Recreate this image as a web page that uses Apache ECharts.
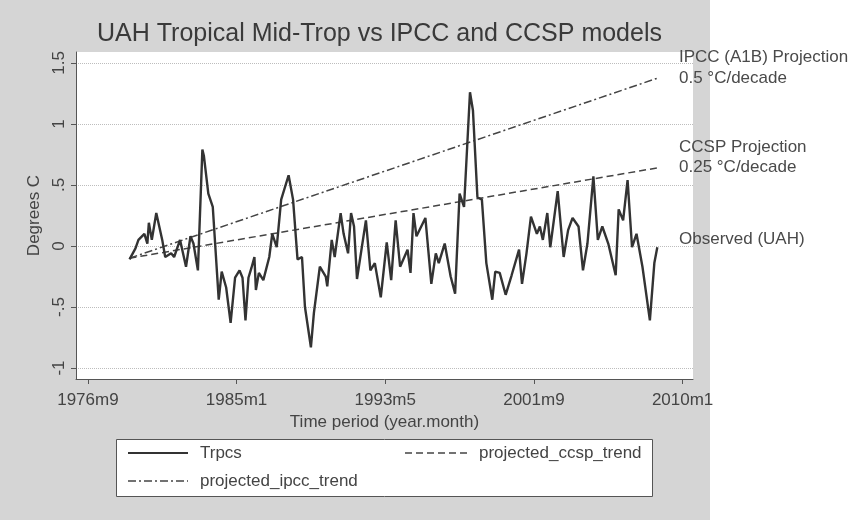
<!DOCTYPE html>
<html><head><meta charset="utf-8">
<script src="https://cdn.jsdelivr.net/npm/echarts@6/dist/echarts.min.js"></script>
<style>
html,body{margin:0;padding:0;background:#fff;}
#c{width:850px;height:520px;background:linear-gradient(to right,#d5d5d5 0,#d5d5d5 710px,#fff 710px);}
</style></head><body><div id="c"></div>
<script>
// Time axis in Stata monthly units (months since 1960m1)
const months = [228,232,234,238,240,241,243,246,248,250,252,256,258,262,266,269,271,274,277,278,281,284,288,290,293,296,299,302,304,306,308,
  310,312,313,315,318,322,324,327,330,335,338,341,344,346,350,352,356,360,361,364,366,370,372,375,377,379,381,387,390,393,397,401,
  404,407,410,415,417,419,421,427,431,434,436,440,444,447,450,453,457,459,462,465,468,472,474,477,481,485,
  490,492,495,498,502,504,506,509,511,516,520,523,526,530,533,536,540,543,546,550,555,557,560,563,566,569,573,578,581,583];
const trpcs = [-0.11,-0.02,0.05,0.10,0.02,0.19,0.05,0.27,0.16,0.05,-0.09,-0.06,-0.09,0.05,-0.17,0.08,0.02,-0.20,0.79,0.74,0.43,0.32,-0.44,-0.21,-0.34,-0.63,-0.26,-0.20,-0.26,-0.61,-0.26,
  -0.18,-0.09,-0.36,-0.22,-0.28,-0.09,0.10,-0.01,0.38,0.58,0.38,-0.11,-0.09,-0.50,-0.83,-0.55,-0.17,-0.25,-0.33,0.05,-0.09,0.27,0.10,-0.06,0.27,0.16,-0.27,0.21,-0.20,-0.14,-0.42,0.03,
  -0.28,0.21,-0.17,-0.03,-0.22,0.27,0.08,0.23,-0.31,-0.06,-0.14,0.02,-0.25,-0.39,0.43,0.32,1.26,1.11,0.40,0.38,-0.14,-0.44,-0.21,-0.22,-0.40,-0.24,
  -0.03,-0.31,-0.06,0.24,0.10,0.16,0.05,0.27,-0.01,0.45,-0.09,0.13,0.23,0.16,-0.20,0.02,0.57,0.05,0.16,0.02,-0.24,0.30,0.21,0.54,-0.01,0.10,-0.17,-0.61,-0.14,-0.01];
const trendMonths = [228, 583];
const ipccTrend = [-0.10, 1.375];
const ccspTrend = [-0.10, 0.64];
const xTickValues = [200, 300, 400, 500, 600];
const xTickLabels = ['1976m9', '1985m1', '1993m5', '2001m9', '2010m1'];
const yTickValues = [-1, -0.5, 0, 0.5, 1, 1.5];
const yTickLabels = ['-1', '-.5', '0', '.5', '1', '1.5'];
const seriesNames = ['Trpcs', 'projected_ccsp_trend', 'projected_ipcc_trend'];
const titleText = 'UAH Tropical Mid-Trop vs IPCC and CCSP models';
const notes = ['IPCC (A1B) Projection', '0.5 °C/decade', 'CCSP Projection', '0.25 °C/decade', 'Observed (UAH)'];

const FONT = '"Liberation Sans", Arial, Helvetica, sans-serif';
const pair = (xs, ys) => xs.map((x, i) => [x, ys[i]]);
const lookup = (vals, labs) => v => { const i = vals.findIndex(t => Math.abs(t - v) < 1e-6); return i < 0 ? '' : labs[i]; };

const chart = echarts.init(document.getElementById('c'), null, {renderer: 'canvas'});
const txt = {fontFamily: FONT, fontSize: 17, color: '#444'};
const noteY = [58, 79, 148, 168, 240];

chart.setOption({
  animation: false,
  backgroundColor: 'transparent',
  title: {text: titleText, left: 92, top: 17,
    textStyle: {fontFamily: FONT, fontSize: 25, fontWeight: 'normal', color: '#3a3a3a'}},
  legend: {show: false},
  grid: {left: 76, top: 52, width: 617, height: 327, show: true, backgroundColor: '#fff', borderWidth: 0},
  xAxis: {
    type: 'value', min: 192, max: 607,
    name: 'Time period (year.month)', nameLocation: 'middle', nameGap: 33, nameTextStyle: txt,
    axisLine: {show: true, onZero: false, lineStyle: {color: '#555', width: 1}},
    axisTick: {show: true, customValues: xTickValues, length: 5, lineStyle: {color: '#555'}},
    axisLabel: {customValues: xTickValues, formatter: lookup(xTickValues, xTickLabels), margin: 13, ...txt},
    splitLine: {show: false}
  },
  yAxis: {
    type: 'value', min: -1.09, max: 1.59,
    name: 'Degrees C', nameLocation: 'middle', nameRotate: 90, nameGap: 30, nameTextStyle: txt,
    axisLine: {show: true, onZero: false, lineStyle: {color: '#555', width: 1}},
    axisTick: {show: true, customValues: yTickValues, length: 5, lineStyle: {color: '#555'}},
    axisLabel: {customValues: yTickValues, formatter: lookup(yTickValues, yTickLabels), rotate: 90, margin: 8, ...txt},
    splitLine: {show: true, lineStyle: {color: '#bdbdbd', type: 'dotted', width: 1}}
  },
  series: [
    {name: seriesNames[0], type: 'line', data: pair(months, trpcs), symbol: 'none',
      lineStyle: {color: '#333', width: 2.4}, z: 3},
    {name: seriesNames[1], type: 'line', data: pair(trendMonths, ccspTrend), symbol: 'none',
      lineStyle: {color: '#444', width: 1.5, type: [7, 4]}, z: 2},
    {name: seriesNames[2], type: 'line', data: pair(trendMonths, ipccTrend), symbol: 'none',
      lineStyle: {color: '#444', width: 1.5, type: [8, 3, 2, 3]}, z: 2}
  ],
  graphic: [
    ...notes.map((t, i) => ({type: 'text', left: 679, top: noteY[i] - 9,
      style: {text: t, fontFamily: FONT, fontSize: 17, fill: '#4a4a4a'}})),
    {type: 'rect', shape: {x: 116.5, y: 439.5, width: 536, height: 57}, style: {fill: '#fff', stroke: '#555', lineWidth: 1}},
    {type: 'line', shape: {x1: 128, y1: 453, x2: 188, y2: 453}, style: {stroke: '#333', lineWidth: 2}},
    {type: 'text', x: 200, y: 453, style: {text: seriesNames[0], fontFamily: FONT, fontSize: 17, fill: '#444', textVerticalAlign: 'middle'}},
    {type: 'line', shape: {x1: 405, y1: 453, x2: 467, y2: 453}, style: {stroke: '#444', lineWidth: 1.5, lineDash: [7, 4]}},
    {type: 'text', x: 479, y: 453, style: {text: seriesNames[1], fontFamily: FONT, fontSize: 17, fill: '#444', textVerticalAlign: 'middle'}},
    {type: 'line', shape: {x1: 128, y1: 481, x2: 188, y2: 481}, style: {stroke: '#444', lineWidth: 1.5, lineDash: [8, 3, 2, 3]}},
    {type: 'text', x: 200, y: 481, style: {text: seriesNames[2], fontFamily: FONT, fontSize: 17, fill: '#444', textVerticalAlign: 'middle'}}
  ]
});
</script></body></html>
